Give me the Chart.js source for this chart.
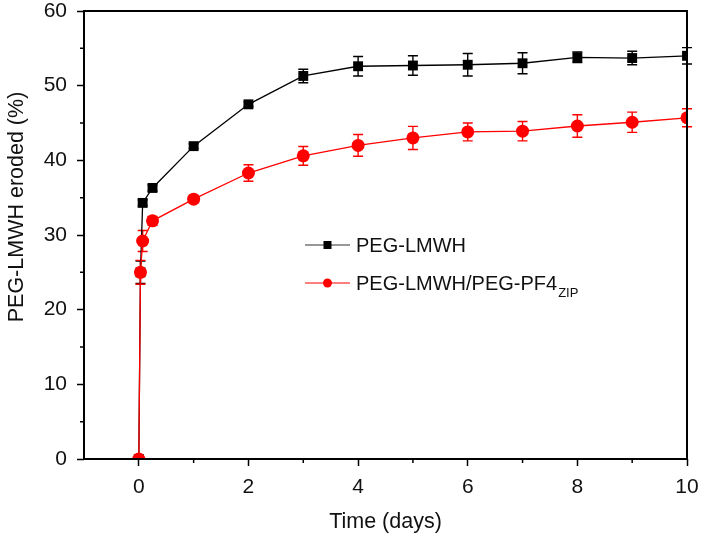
<!DOCTYPE html>
<html>
<head>
<meta charset="utf-8">
<script src="https://cdn.jsdelivr.net/npm/chart.js@4"></script>
<style>
  html, body { margin: 0; padding: 0; background: #fff; }
  #wrap { width: 702px; height: 539px; }
</style>
</head>
<body>
<div id="wrap"><canvas id="chart" width="702" height="539"></canvas></div>
<script>
'use strict';

// time points (days)
const times = [0, 0.03, 0.07, 0.25, 1, 2, 3, 4, 5, 6, 7, 8, 9, 10];
// PEG-LMWH
const lmwhValues = [0, 25, 34.3, 36.3, 41.9, 47.5, 51.3, 52.6, 52.7, 52.8, 53.0, 53.8, 53.7, 54.0];
const lmwhErrors = [0, 1.5, 0.4, 0.4, 0.3, 0.3, 0.9, 1.3, 1.3, 1.5, 1.4, 0.7, 0.9, 1.1];
// PEG-LMWH/PEG-PF4zip
const zipValues = [0, 25, 29.2, 31.9, 34.8, 38.3, 40.6, 42.0, 43.0, 43.8, 43.9, 44.6, 45.1, 45.7];
const zipErrors = [0, 1.6, 1.4, 0.6, 0.5, 1.1, 1.25, 1.45, 1.55, 1.2, 1.3, 1.5, 1.35, 1.2];

const xTickLabels = [0, 2, 4, 6, 8, 10];
const yTickLabels = [0, 10, 20, 30, 40, 50, 60];
const yTitle = 'PEG-LMWH eroded (%)';

const FONT = '"Liberation Sans", Arial, Helvetica, sans-serif';
const RED = '#f00';

const toPoints = (vals) => vals.map((v, i) => ({ x: times[i], y: v }));

// keep the plot box where the original has it: no label overflow padding
function fixScale(scale, size) {
  if (scale.isHorizontal()) scale.height = size; else scale.width = size;
  scale.paddingTop = 0;
  scale.paddingBottom = 0;
  scale.paddingLeft = 0;
  scale.paddingRight = 0;
}

// error bars, drawn under the markers
const errorBars = {
  id: 'errorBars',
  beforeDatasetsDraw(chart) {
    const ctx = chart.ctx;
    const xs = chart.scales.x, ys = chart.scales.y;
    chart.data.datasets.forEach((ds) => {
      if (!ds.errors) return;
      ctx.save();
      ctx.strokeStyle = ds.borderColor;
      ctx.lineWidth = 1.4;
      ds.data.forEach((p, i) => {
        const e = ds.errors[i];
        if (!e) return;
        const px = xs.getPixelForValue(p.x);
        const top = ys.getPixelForValue(p.y + e);
        const bot = ys.getPixelForValue(p.y - e);
        ctx.beginPath();
        ctx.moveTo(px, top); ctx.lineTo(px, bot);
        ctx.moveTo(px - 5, top); ctx.lineTo(px + 5, top);
        ctx.moveTo(px - 5, bot); ctx.lineTo(px + 5, bot);
        ctx.stroke();
      });
      ctx.restore();
    });
  }
};

// frame, minor ticks, y title and the legend
const decor = {
  id: 'decor',
  afterDraw(chart) {
    const ctx = chart.ctx;
    const a = chart.chartArea;
    const xs = chart.scales.x, ys = chart.scales.y;
    ctx.save();
    ctx.strokeStyle = '#000';
    ctx.lineWidth = 2;
    ctx.strokeRect(a.left, a.top, a.right - a.left, a.bottom - a.top);

    ctx.lineWidth = 1.5;
    ctx.beginPath();
    [5, 15, 25, 35, 45, 55].forEach(v => {
      const py = ys.getPixelForValue(v);
      ctx.moveTo(a.left - 4, py); ctx.lineTo(a.left, py);
    });
    [1, 3, 5, 7, 9].forEach(v => {
      const px = xs.getPixelForValue(v);
      ctx.moveTo(px, a.bottom); ctx.lineTo(px, a.bottom + 4);
    });
    ctx.stroke();

    // y axis title (sits a bit above the middle in the original)
    ctx.save();
    ctx.translate(17, 207);
    ctx.rotate(-Math.PI / 2);
    ctx.fillStyle = '#111';
    ctx.font = '21.5px ' + FONT;
    ctx.textAlign = 'center';
    ctx.textBaseline = 'middle';
    ctx.fillText(yTitle, 0, 0);
    ctx.restore();

    // legend
    const lx = 305, lw = 45, tx = 356;
    const rows = [
      { y: 245, color: '#333', marker: 'square', label: 'PEG-LMWH' },
      { y: 283, color: RED, marker: 'circle', label: 'PEG-LMWH/PEG-PF4', sub: 'ZIP' }
    ];
    rows.forEach(r => {
      ctx.strokeStyle = r.color;
      ctx.lineWidth = 1.2;
      ctx.beginPath();
      ctx.moveTo(lx, r.y); ctx.lineTo(lx + lw, r.y);
      ctx.stroke();
      const mx = lx + lw / 2;
      if (r.marker === 'square') {
        ctx.fillStyle = '#000';
        ctx.fillRect(mx - 4, r.y - 4, 8, 8);
      } else {
        ctx.fillStyle = RED;
        ctx.beginPath();
        ctx.arc(mx, r.y, 4.5, 0, Math.PI * 2);
        ctx.fill();
      }
      ctx.fillStyle = '#111';
      ctx.font = '20px ' + FONT;
      ctx.textBaseline = 'middle';
      ctx.textAlign = 'left';
      ctx.fillText(r.label, tx, r.y + 1);
      if (r.sub) {
        const w = ctx.measureText(r.label).width;
        ctx.font = '13px ' + FONT;
        ctx.fillText(r.sub, tx + w + 1, r.y + 10);
      }
    });
    ctx.restore();
  }
};

new Chart(document.getElementById('chart'), {
  type: 'line',
  data: {
    datasets: [
      {
        label: 'PEG-LMWH',
        data: toPoints(lmwhValues),
        errors: lmwhErrors,
        borderColor: '#000',
        backgroundColor: '#000',
        borderWidth: 1.3,
        pointStyle: 'rect',
        pointRadius: 7,
        pointBorderWidth: 0,
        tension: 0,
        order: 2
      },
      {
        label: 'PEG-LMWH/PEG-PF4ZIP',
        data: toPoints(zipValues),
        errors: zipErrors,
        borderColor: RED,
        backgroundColor: RED,
        borderWidth: 1.3,
        pointStyle: 'circle',
        pointRadius: 6.5,
        pointBorderWidth: 0,
        tension: 0,
        order: 1
      }
    ]
  },
  options: {
    responsive: false,
    animation: false,
    layout: { padding: { top: 11, right: 15, left: 0, bottom: 0 } },
    plugins: { legend: { display: false }, tooltip: { enabled: false } },
    scales: {
      x: {
        type: 'linear',
        min: -1,
        max: 10,
        afterFit: (scale) => fixScale(scale, 80),
        border: { display: false },
        grid: {
          drawOnChartArea: false,
          tickLength: 7,
          tickWidth: 1.5,
          tickColor: (c) => (c.tick && xTickLabels.includes(c.tick.value)) ? '#000' : 'rgba(0,0,0,0)'
        },
        ticks: {
          stepSize: 1,
          padding: 9,
          color: '#111',
          font: { family: FONT, size: 21 },
          maxRotation: 0,
          autoSkip: false,
          callback: (v) => xTickLabels.includes(v) ? String(v) : ''
        },
        title: {
          display: true,
          text: 'Time (days)',
          color: '#111',
          font: { family: FONT, size: 21.5 },
          padding: { top: 0, bottom: 4 }
        }
      },
      y: {
        min: 0,
        max: 60,
        afterFit: (scale) => fixScale(scale, 84),
        border: { display: false },
        grid: {
          drawOnChartArea: false,
          tickLength: 7,
          tickWidth: 1.5,
          tickColor: (c) => (c.tick && yTickLabels.includes(c.tick.value)) ? '#000' : 'rgba(0,0,0,0)'
        },
        ticks: {
          stepSize: 5,
          padding: 10,
          color: '#111',
          font: { family: FONT, size: 21 },
          autoSkip: false,
          callback: (v) => yTickLabels.includes(v) ? String(v) : ''
        },
        title: { display: false }
      }
    }
  },
  plugins: [errorBars, decor]
});
</script>
</body>
</html>
